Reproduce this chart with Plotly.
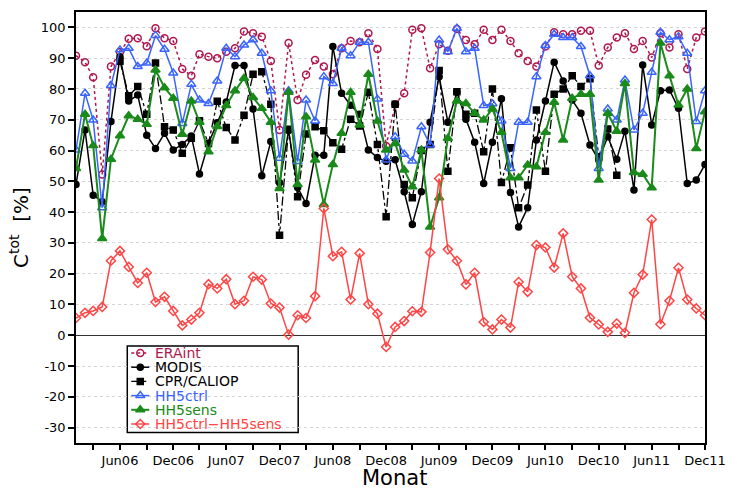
import pandas as pd
import plotly.graph_objects as go

months = pd.date_range("2006-01-01", periods=72, freq="MS")

era_int = [90.8, 88.7, 83.8, 52.2, 87.3, 92.0, 96.3, 96.5, 93.9, 99.7, 96.5, 95.6,
           86.5, 84.3, 91.3, 90.5, 90.0, 92.1, 93.2, 98.7, 98.1, 97.0, 89.1, 66.7,
           94.9, 76.4, 84.6, 89.4, 87.3, 84.8, 93.2, 95.6, 95.2, 98.1, 93.0, 61.5,
           75.0, 78.6, 99.2, 99.7, 86.7, 94.5, 92.4, 99.5, 95.9, 94.5, 99.2, 95.9,
           99.2, 95.6, 91.6, 89.1, 87.3, 93.8, 98.4, 97.8, 97.8, 98.9, 98.9, 87.6,
           93.5, 96.7, 98.1, 93.0, 95.6, 90.2, 98.1, 93.5, 97.8, 86.5, 96.7, 98.7]

modis = [49.0, 66.7, 45.5, 43.4, 69.4, 90.5, 76.1, 78.0, 65.0, 60.7, 65.6, 60.2,
         62.0, 64.7, 52.4, 62.4, 69.0, 75.8, 87.6, 87.6, 73.5, 51.8, 62.9, 49.5,
         66.5, 48.0, 42.8, 58.5, 58.5, 93.8, 78.6, 74.7, 71.8, 60.2, 57.7, 56.5,
         57.0, 46.6, 36.0, 46.6, 69.2, 84.0, 69.2, 78.9, 70.2, 62.7, 49.3, 62.7,
         76.8, 46.4, 35.2, 41.4, 63.4, 76.1, 88.7, 82.6, 76.4, 72.1, 61.8, 57.0,
         64.5, 57.2, 66.3, 47.2, 87.8, 68.3, 79.4, 79.7, 73.7, 49.3, 50.4, 55.5]

cpr_caliop = [None, None, None, None, None, 89.0, 77.8, 80.8, 71.8, 88.4, 67.7, 66.7,
              59.1, 64.0, 69.7, 62.3, 76.0, 67.5, 63.4, 71.5, 84.8, 85.6, 75.0, 32.5,
              66.9, 45.0, 65.4, 67.7, 66.4, 62.5, 60.4, 70.2, 68.0, 78.9, 62.0, 38.5,
              75.0, 49.0, 44.7, 60.0, 62.0, 86.0, 53.3, 79.1, 71.8, 72.1, 59.6, 80.0,
              49.6, 60.9, 41.4, 48.8, 73.2, 53.3, 78.3, 80.0, 84.3, 80.8, 83.3, 58.0,
              67.0, 52.0, None, None, None, None, None, None, None, None, None, None]

hh5ctrl = [60.2, 78.6, 69.9, 41.4, 81.1, 92.7, 93.2, 87.3, 88.4, 97.4, 92.9, 85.2,
           68.8, 81.5, 76.4, 75.3, 82.6, 93.2, 90.5, 94.3, 96.0, 91.6, 79.4, 57.5,
           79.4, 56.4, 76.4, 69.6, 84.0, 81.8, 93.2, 90.8, 95.2, 95.2, 76.7, 56.9,
           64.5, 58.8, 56.6, 67.7, 61.8, 95.9, 92.1, 99.7, 92.1, 93.2, 74.6, 75.2,
           69.6, 54.2, 69.2, 69.2, 84.0, 94.1, 97.8, 96.7, 96.7, 93.8, 84.3, 54.2,
           73.5, 69.9, 82.9, 66.7, 72.1, 85.4, 98.4, 96.0, 97.0, 91.6, 69.4, 79.4]

hh5sens = [54.2, 71.8, 61.6, 31.4, 57.2, 64.8, 71.3, 70.2, 68.5, 86.2, 80.4, 77.0,
           65.3, 76.1, 69.2, 59.6, 67.8, 74.6, 79.4, 83.5, 77.2, 73.7, 69.2, 47.7,
           78.9, 49.0, 71.0, 56.9, 42.5, 55.5, 65.6, 78.9, 68.3, 84.8, 69.6, 60.2,
           62.3, 53.7, 48.2, 60.2, 35.2, 44.7, 64.0, 76.1, 75.3, 72.1, 69.9, 73.5,
           65.9, 51.2, 51.2, 55.3, 54.7, 65.9, 75.7, 63.4, 77.0, 78.3, 78.3, 50.4,
           72.1, 66.3, 81.8, 52.9, 52.3, 47.9, 94.9, 84.3, 74.8, 80.0, 60.7, 72.6]

ctrl_minus_sens = [5.6, 7.3, 7.9, 9.2, 24.2, 27.4, 22.2, 17.0, 20.3, 10.8, 12.5, 7.9,
                   3.2, 5.1, 7.3, 16.6, 15.2, 18.2, 10.1, 11.2, 19.0, 18.1, 10.3, 9.0,
                   0.2, 6.5, 5.6, 12.7, 41.2, 25.7, 27.1, 11.6, 26.6, 10.1, 7.0, -3.8,
                   2.7, 4.6, 7.8, 7.6, 26.9, 50.9, 27.9, 24.2, 16.5, 20.3, 4.3, 1.9,
                   5.1, 2.5, 17.3, 14.1, 29.3, 28.5, 22.0, 33.1, 19.0, 15.2, 5.7, 3.5,
                   1.1, 3.8, 0.8, 13.8, 19.7, 37.6, 3.6, 11.2, 21.9, 11.6, 8.7, 6.5]

x_major_ticks = pd.date_range("2006-06-01", "2011-12-01", freq="6MS")
x_tick_labels = [d.strftime("%b%y") for d in x_major_ticks]
y_tick_vals = list(range(-30, 101, 10))
y_tick_labels = [str(v) for v in y_tick_vals]

C_ERA = "#b0174e"
C_BLUE = "#3a64ff"
C_GREEN = "#1a8a1a"
C_RED = "#ff4545"

# series styles: (name, values, color, line dash, line width, marker symbol, marker size)
series = [
    ("ERAint", era_int, C_ERA, "dot", 1.5, "circle-open", 7),
    ("MODIS", modis, "#000000", "solid", 1.5, "circle", 6),
    ("CPR/CALIOP", cpr_caliop, "#000000", "dashdot", 1.3, "square", 6),
    ("HH5ctrl", hh5ctrl, C_BLUE, "solid", 1.5, "triangle-up-open", 8),
    ("HH5sens", hh5sens, C_GREEN, "solid", 2.0, "triangle-up", 8),
    ("HH5ctrl\u2212HH5sens", ctrl_minus_sens, C_RED, "solid", 1.5, "diamond-open", 7),
]

fig = go.Figure()
for name, vals, col, dash, lw, sym, ms in series:
    fig.add_trace(go.Scatter(
        x=months, y=vals, name=name, mode="lines+markers", showlegend=False,
        line=dict(color=col, width=lw, dash=dash),
        marker=dict(symbol=sym, size=ms, color=col, line=dict(width=1.5, color=col)),
        connectgaps=False))

# ---- compact legend and x title (layout elements, pixel geometry of the figure) ----
PL, PR, PT, PB = 75.7, 705.0, 12.0, 443.0
def px_x(p):
    return (p - PL) / (PR - PL)
def px_y(p):
    return (PB - p) / (PB - PT)

fig.add_shape(type="rect", xref="paper", yref="paper",
              x0=px_x(127), x1=px_x(298), y0=px_y(432.5), y1=px_y(346),
              line=dict(color="black", width=1.5), fillcolor="white", layer="between")

row_y = [353, 367.2, 381.4, 395.6, 409.8, 424]
for (name, vals, col, dash, lw, sym, ms), ry in zip(series, row_y):
    yy = px_y(ry)
    fig.add_trace(go.Scatter(
        x=[px_x(131), px_x(140), px_x(149)], y=[yy, yy, yy],
        xaxis="x2", yaxis="y2", mode="lines+markers", showlegend=False, hoverinfo="skip",
        line=dict(color=col, width=lw, dash=dash),
        marker=dict(symbol=sym, size=ms, color=col, opacity=[0, 1, 0],
                    line=dict(width=1.5, color=col))))
    fig.add_annotation(xref="paper", yref="paper", x=px_x(154), y=yy,
                       xanchor="left", yanchor="middle", showarrow=False, borderpad=0,
                       text=name, font=dict(size=14, color=col))

fig.add_annotation(xref="paper", yref="paper", x=px_x(394), y=px_y(491),
                   xanchor="center", yanchor="bottom", showarrow=False, borderpad=0,
                   text="Monat", font=dict(size=21, color="black"))

fig.update_layout(
    width=737, height=491,
    margin=dict(l=76, r=32, t=12, b=48, autoexpand=False),
    paper_bgcolor="white", plot_bgcolor="white",
    font=dict(family="DejaVu Sans", size=13, color="black"),
    showlegend=False,
    xaxis2=dict(overlaying="x", range=[0, 1], visible=False, fixedrange=True),
    yaxis2=dict(overlaying="y", range=[0, 1], visible=False, fixedrange=True),
)
fig.update_layout(xaxis=dict(
    type="date", range=[months[0], months[-1]], automargin=False,
    tickmode="array", tickvals=x_major_ticks, ticktext=x_tick_labels,
    ticks="outside", ticklen=5, tickwidth=1.5, tickcolor="black",
    minor=dict(dtick="M3", tick0="2006-03-01", ticks="outside", ticklen=5,
               tickwidth=1.5, tickcolor="black", showgrid=False),
    showline=True, linecolor="black", linewidth=1.5, mirror=True,
    showgrid=False, zeroline=False, tickfont=dict(size=13),
))
fig.update_layout(yaxis=dict(
    range=[-35, 105], automargin=False,
    tickmode="array", tickvals=y_tick_vals, ticktext=y_tick_labels,
    ticks="outside", ticklen=6, tickwidth=1.5, tickcolor="black",
    showline=True, linecolor="black", linewidth=1.5, mirror=True,
    showgrid=True, gridcolor="#d4d4d4", griddash="dot", gridwidth=1,
    zeroline=True, zerolinecolor="#333333", zerolinewidth=1, tickfont=dict(size=13),
    title=dict(text="C<sup>tot</sup>  [%]", font=dict(size=20), standoff=7),
))

fig.write_html("out.html", config={"displayModeBar": False},
               post_script="document.body.style.margin='0px'; document.body.style.overflow='hidden';")
